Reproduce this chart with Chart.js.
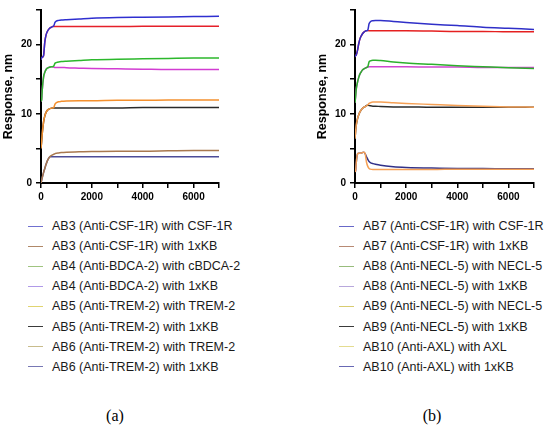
<!DOCTYPE html>
<html>
<head>
<meta charset="utf-8">
<script src="https://cdn.jsdelivr.net/npm/chart.js@4.4.1/dist/chart.umd.min.js"></script>
<style>
    html, body { margin: 0; padding: 0; background: #fff; }
    body { width: 550px; height: 428px; position: relative; overflow: hidden; font-family: "Liberation Sans", Arial, sans-serif; }
    .plot { position: absolute; top: 0; width: 275px; height: 210px; }
    #plotA { left: 0; }
    #plotB { left: 275px; }
    .legend { position: absolute; top: 216px; list-style: none; margin: 0; padding: 0; }
    #legendA { left: 28px; }
    #legendB { left: 339px; }
    .legend li { height: 20.1px; display: flex; align-items: center; font-size: 12.5px; color: #1a1a1a; white-space: nowrap; }
    .legend .swatch { display: inline-block; width: 15px; height: 0; border-top: 1.5px solid; margin-right: 9px; }
    .caption { position: absolute; top: 407px; font-family: "Liberation Serif", "DejaVu Serif", serif; font-size: 16px; color: #000; transform: translateX(-50%); }
</style>
</head>
<body>
<div class="plot" id="plotA"><canvas id="chartA"></canvas></div>
<div class="plot" id="plotB"><canvas id="chartB"></canvas></div>
<ul class="legend" id="legendA"></ul>
<ul class="legend" id="legendB"></ul>
<div class="caption" style="left:115px">(a)</div>
<div class="caption" style="left:432px">(b)</div>

<script>
/* ================== DATA ================== */
const times = [0, 25, 50, 100, 150, 200, 250, 300, 350, 400, 450, 500, 550, 600, 700, 800, 1000, 1500, 2000, 3000, 4000, 5000, 6000, 7000];

// panel (a)
const labelsA = [
    "AB3 (Anti-CSF-1R) with CSF-1R",
    "AB3 (Anti-CSF-1R) with 1xKB",
    "AB4 (Anti-BDCA-2) with cBDCA-2",
    "AB4 (Anti-BDCA-2) with 1xKB",
    "AB5 (Anti-TREM-2) with TREM-2",
    "AB5 (Anti-TREM-2) with 1xKB",
    "AB6 (Anti-TREM-2) with TREM-2",
    "AB6 (Anti-TREM-2) with 1xKB"
];
const ab3Csf1r = [17.8, 18.1, 18.2, 18.4, 20.4, 21.4, 21.9, 22.2, 22.4, 22.5, 22.6, 22.7, 23.2, 23.4, 23.5, 23.55, 23.6, 23.7, 23.8, 23.9, 23.95, 24.0, 24.05, 24.1];
const ab3Kb    = [17.8, 18.1, 18.2, 18.4, 20.4, 21.4, 21.9, 22.2, 22.4, 22.5, 22.6, 22.6, 22.6, 22.6, 22.6, 22.6, 22.6, 22.6, 22.6, 22.6, 22.65, 22.65, 22.65, 22.65];
const ab4Bdca2 = [11.8, 12.0, 13.5, 15.3, 16.0, 16.4, 16.6, 16.7, 16.75, 16.8, 16.8, 16.9, 17.3, 17.4, 17.5, 17.55, 17.6, 17.7, 17.8, 17.9, 17.95, 18.0, 18.05, 18.05];
const ab4Kb    = [11.8, 12.0, 13.5, 15.3, 16.0, 16.4, 16.6, 16.7, 16.75, 16.8, 16.8, 16.75, 16.7, 16.7, 16.7, 16.7, 16.65, 16.6, 16.55, 16.5, 16.45, 16.4, 16.4, 16.4];
const ab5Trem2 = [5.0, 6.0, 7.2, 8.8, 9.7, 10.2, 10.5, 10.65, 10.75, 10.8, 10.85, 10.9, 11.4, 11.6, 11.75, 11.8, 11.85, 11.9, 11.9, 11.95, 11.95, 12.0, 12.0, 12.0];
const ab5Kb    = [5.0, 6.0, 7.2, 8.8, 9.7, 10.2, 10.5, 10.65, 10.75, 10.8, 10.85, 10.85, 10.85, 10.85, 10.85, 10.85, 10.85, 10.85, 10.85, 10.85, 10.9, 10.9, 10.9, 10.9];
const ab6Trem2 = [0, 0.4, 0.8, 1.5, 2.1, 2.7, 3.2, 3.55, 3.8, 3.95, 4.05, 4.15, 4.25, 4.3, 4.35, 4.4, 4.45, 4.5, 4.55, 4.6, 4.6, 4.65, 4.7, 4.7];
const ab6Kb    = [0, 0.4, 0.8, 1.5, 2.1, 2.7, 3.2, 3.55, 3.8, 3.8, 3.8, 3.8, 3.8, 3.8, 3.8, 3.8, 3.8, 3.8, 3.8, 3.8, 3.8, 3.8, 3.8, 3.8];

// panel (b)
const labelsB = [
    "AB7 (Anti-CSF-1R) with CSF-1R",
    "AB7 (Anti-CSF-1R) with 1xKB",
    "AB8 (Anti-NECL-5) with NECL-5",
    "AB8 (Anti-NECL-5) with 1xKB",
    "AB9 (Anti-NECL-5) with NECL-5",
    "AB9 (Anti-NECL-5) with 1xKB",
    "AB10 (Anti-AXL) with AXL",
    "AB10 (Anti-AXL) with 1xKB"
];
const ab7Csf1r = [18.2, 18.4, 18.5, 19.2, 20.2, 20.9, 21.3, 21.6, 21.8, 21.95, 22.0, 22.1, 23.0, 23.3, 23.45, 23.5, 23.5, 23.35, 23.2, 22.95, 22.75, 22.5, 22.35, 22.2];
const ab7Kb    = [18.2, 18.4, 18.5, 19.2, 20.2, 20.9, 21.3, 21.6, 21.8, 21.95, 22.0, 22.05, 22.0, 22.0, 22.0, 22.0, 22.0, 22.0, 22.0, 21.95, 21.9, 21.9, 21.85, 21.85];
const ab8Necl5 = [11.6, 12.5, 13.6, 14.6, 15.3, 15.8, 16.1, 16.35, 16.5, 16.6, 16.7, 16.8, 17.5, 17.65, 17.75, 17.75, 17.7, 17.5, 17.35, 17.15, 16.95, 16.8, 16.65, 16.55];
const ab8Kb    = [11.6, 12.5, 13.6, 14.6, 15.3, 15.8, 16.1, 16.35, 16.5, 16.6, 16.7, 16.75, 16.8, 16.8, 16.8, 16.8, 16.8, 16.8, 16.8, 16.75, 16.75, 16.7, 16.7, 16.7];
const ab9Necl5 = [6.4, 7.5, 8.4, 9.3, 9.9, 10.3, 10.6, 10.8, 10.95, 11.05, 11.15, 11.3, 11.5, 11.6, 11.7, 11.7, 11.7, 11.6, 11.5, 11.35, 11.2, 11.1, 11.0, 10.95];
const ab9Kb    = [6.4, 7.5, 8.4, 9.3, 9.9, 10.3, 10.6, 10.8, 10.95, 11.05, 11.2, 11.25, 11.2, 11.15, 11.1, 11.1, 11.05, 11.0, 11.0, 10.95, 10.95, 10.95, 10.95, 10.95];
const ab10Axl  = [1.6, 1.8, 3.0, 4.2, 4.3, 4.3, 4.35, 4.4, 4.45, 4.2, 3.0, 2.4, 2.1, 2.0, 1.95, 1.95, 1.95, 1.95, 1.95, 1.95, 2.0, 2.0, 2.0, 2.0];
const ab10Kb   = [1.6, 1.8, 3.0, 4.2, 4.3, 4.3, 4.35, 4.4, 4.45, 4.2, 3.8, 3.4, 3.1, 2.95, 2.8, 2.7, 2.55, 2.35, 2.25, 2.15, 2.1, 2.1, 2.05, 2.05];

const xTicks = [0, 2000, 4000, 6000];
const yTicks = [0, 10, 20];

/* ================== STYLES ================== */
const lineColorsA   = ["#2f2fd0", "#e5202a", "#2cb82c", "#d23cd2", "#f4902e", "#2a2a2a", "#a8784e", "#4c4c98"];
const legendColorsA = ["#7070d0", "#b08868", "#a0c480", "#b09ae8", "#e0d470", "#3a3a3a", "#c8bc8c", "#7878b4"];
const lineColorsB   = ["#2f2fc8", "#e52020", "#2cb02c", "#d044d0", "#f5a055", "#2a2a2a", "#f5a055", "#303088"];
const legendColorsB = ["#6868c8", "#b88a74", "#98bc7c", "#b8a8dc", "#d8cc70", "#3a3a3a", "#e4dc90", "#6868b4"];

Chart.defaults.font.family = '"Liberation Sans", Arial, sans-serif';
Chart.defaults.color = "#000";

/* ================== CHARTS ================== */
function makePanel(canvasId, legendId, labels, series, lineColors, legendColors, padding) {
    const datasets = series.map((vals, i) => ({
        label: labels[i],
        data: times.map((t, j) => ({ x: t, y: vals[j] })),
        borderColor: lineColors[i],
        borderWidth: 1.5,
        pointRadius: 0,
        cubicInterpolationMode: "monotone",
        fill: false
    }));

    const axisGrid = { drawOnChartArea: false, drawTicks: true, tickLength: 5, color: "#000", lineWidth: 1.5 };
    const axisBorder = { display: true, color: "#000", width: 2 };
    const tickFont = { size: 10, weight: "bold" };

    const chart = new Chart(document.getElementById(canvasId), {
        type: "line",
        data: { datasets },
        options: {
            responsive: true,
            maintainAspectRatio: false,
            animation: false,
            layout: { padding },
            plugins: { legend: { display: false }, tooltip: { enabled: false } },
            scales: {
                x: {
                    type: "linear",
                    min: 0,
                    max: 7000,
                    grid: axisGrid,
                    border: axisBorder,
                    ticks: {
                        stepSize: 1000,
                        autoSkip: false,
                        maxRotation: 0,
                        padding: 3,
                        font: tickFont,
                        callback: v => xTicks.includes(v) ? String(v) : ""
                    },
                    afterFit: s => { s.height = 27; }
                },
                y: {
                    min: 0,
                    max: 25,
                    grid: axisGrid,
                    border: axisBorder,
                    ticks: {
                        stepSize: 5,
                        padding: 4,
                        font: tickFont,
                        callback: v => yTicks.includes(v) ? String(v) : ""
                    },
                    title: {
                        display: true,
                        text: "Response, nm",
                        font: { size: 12.5, weight: "bold" },
                        padding: { top: 1, bottom: 0 }
                    },
                    afterFit: s => { s.width = 41; }
                }
            }
        }
    });

    // html legend built from the chart's datasets
    const ul = document.getElementById(legendId);
    chart.data.datasets.forEach((ds, i) => {
        const li = document.createElement("li");
        const sw = document.createElement("span");
        sw.className = "swatch";
        sw.style.borderTopColor = legendColors[i];
        li.appendChild(sw);
        li.appendChild(document.createTextNode(ds.label));
        ul.appendChild(li);
    });
    return chart;
}

makePanel("chartA", "legendA", labelsA,
    [ab3Csf1r, ab3Kb, ab4Bdca2, ab4Kb, ab5Trem2, ab5Kb, ab6Trem2, ab6Kb],
    lineColorsA, legendColorsA, { left: 0, right: 56, top: 2, bottom: 0 });

makePanel("chartB", "legendB", labelsB,
    [ab7Csf1r, ab7Kb, ab8Necl5, ab8Kb, ab9Necl5, ab9Kb, ab10Axl, ab10Kb],
    lineColorsB, legendColorsB, { left: 39, right: 16, top: 2, bottom: 0 });
</script>
</body>
</html>
